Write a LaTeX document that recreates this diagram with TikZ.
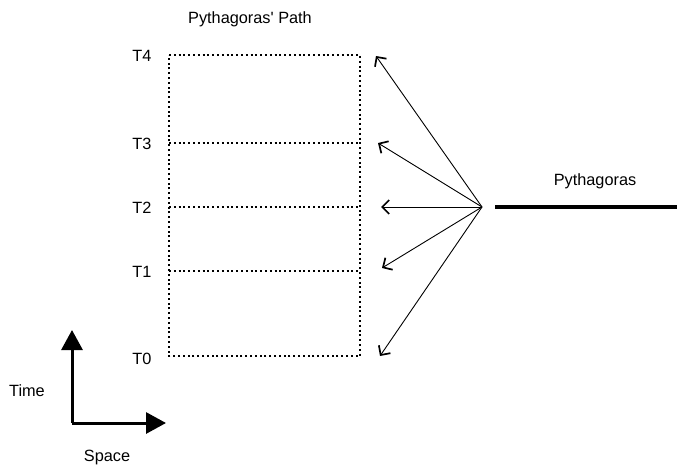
\documentclass[tikz,border=0pt]{standalone}
\usepackage{fontspec}
\setmainfont{Liberation Sans}
\usetikzlibrary{arrows.meta}
\newcommand{\straightquote}{\XeTeXglyph\numexpr\XeTeXcharglyph"27\relax}
\begin{document}
\begin{tikzpicture}[x=1pt,y=-1pt,
  lbl/.style={font=\fontsize{16.3}{19}\selectfont, inner sep=0pt},
  dotline/.style={line width=2.2pt, dash pattern=on 2pt off 2.8pt},
  ray/.style={line width=0.9pt, -{Straight Barb[length=7pt,width=14pt,line width=1.7pt]}},
  axis/.style={line width=3pt, -{Triangle[length=20pt,width=21pt]}}]
\useasboundingbox (0,0) rectangle (677,468);
% title and T labels
\node[lbl] (title) at (250,19) {Pythagoras\straightquote\ Path};
\node[lbl] (t4) at (142,56) {T4};
\node[lbl] (t3) at (142,144) {T3};
\node[lbl] (t2) at (142,208) {T2};
\node[lbl] (t1) at (142,272) {T1};
\node[lbl] (t0) at (142,359) {T0};
% rectangle corners
\coordinate (r4l) at (169,55);  \coordinate (r4r) at (360,55);
\coordinate (r3l) at (169,143); \coordinate (r3r) at (360,143);
\coordinate (r2l) at (169,207); \coordinate (r2r) at (360,207);
\coordinate (r1l) at (169,271); \coordinate (r1r) at (360,271);
\coordinate (r0l) at (169,356); \coordinate (r0r) at (360,356);
\draw[dotline] (r4l) -- (r4r) -- (r0r) -- (r0l) -- cycle;
\draw[dotline] (r3l) -- (r3r);
\draw[dotline] (r2l) -- (r2r);
\draw[dotline] (r1l) -- (r1r);
% source and rays
\coordinate (src) at (482,207);
\coordinate (a4) at (376,56);
\coordinate (a3) at (378,143);
\coordinate (a2) at (381,207);
\coordinate (a1) at (382,268);
\coordinate (a0) at (380,356);
\draw[ray] (src) -- (a4);
\draw[ray] (src) -- (a3);
\draw[ray] (src) -- (a2);
\draw[ray] (src) -- (a1);
\draw[ray] (src) -- (a0);
% Pythagoras world line
\node[lbl] (pyth) at (595,181) {Pythagoras};
\coordinate (p0) at (495,207);
\coordinate (p1) at (677,207);
\draw[line width=4pt] (p0) -- (p1);
% axes
\coordinate (o) at (72,423);
\coordinate (ty) at (72,330);
\coordinate (sx) at (166,423);
\draw[axis] (o) -- (ty);
\draw[axis] (o) -- (sx);
\node[lbl] (time) at (27,391) {Time};
\node[lbl] (space) at (107,457) {Space};
\end{tikzpicture}
\end{document}
